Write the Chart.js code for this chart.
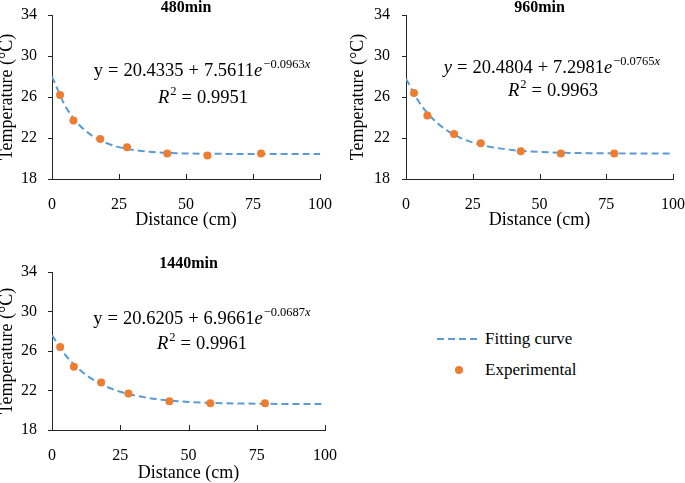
<!DOCTYPE html>
<html>
<head>
<meta charset="utf-8">
<script src="https://cdn.jsdelivr.net/npm/chart.js@4.4.1/dist/chart.umd.min.js"></script>
<style>
  html, body { margin: 0; padding: 0; background: #fff; }
  #wrap { position: relative; width: 685px; height: 483px; overflow: hidden; font-family: "Liberation Serif", serif; color: #000; }
  .box { position: absolute; }
  .leg { position: absolute; font-size: 17px; line-height: 20px; white-space: nowrap; }
</style>
</head>
<body>
<div id="wrap">
  <div class="box" style="left:0;top:0;width:340px;height:240px"><canvas id="c480"></canvas></div>
  <div class="box" style="left:345px;top:0;width:340px;height:240px"><canvas id="c960"></canvas></div>
  <div class="box" style="left:0;top:240px;width:340px;height:243px"><canvas id="c1440"></canvas></div>

  <svg class="box" style="left:430px;top:330px" width="60" height="50">
    <line x1="7" y1="9" x2="47" y2="9" stroke="#5B9BD5" stroke-width="2" stroke-dasharray="7 4"/>
    <circle cx="29" cy="40" r="4" fill="#ED7D31"/>
  </svg>
  <div class="leg" style="left:485px;top:329px">Fitting curve</div>
  <div class="leg" style="left:485px;top:360px">Experimental</div>
</div>

<script>
// measured points
const distance = [3, 8, 18, 28, 43, 58, 78];
const temp480 = [26.2, 23.7, 21.9, 21.1, 20.5, 20.3, 20.5];
const temp960 = [26.4, 24.2, 22.4, 21.5, 20.7, 20.5, 20.5];
const temp1440 = [26.4, 24.4, 22.8, 21.7, 20.9, 20.7, 20.7];

// fitted curves, read at these distances
const fitX = [0, 5, 10, 15, 20, 25, 30, 40, 50, 60, 70, 80, 90, 100];
const fit480 = [27.99, 25.10, 23.32, 22.22, 21.54, 21.11, 20.85, 20.59, 20.49, 20.46, 20.44, 20.44, 20.43, 20.43];
const fit960 = [27.78, 25.46, 23.88, 22.80, 22.06, 21.56, 21.22, 20.82, 20.64, 20.55, 20.52, 20.50, 20.49, 20.48];
const fit1440 = [27.59, 25.56, 24.13, 23.11, 22.38, 21.87, 21.51, 21.07, 20.84, 20.73, 20.68, 20.65, 20.63, 20.63];

const xTicks = [0, 25, 50, 75, 100];
const yTicks = [18, 22, 26, 30, 34];

const axisColor = "#262626";
const serif = "'Liberation Serif', 'Times New Roman', serif";

// small upward tick marks on the x axis
const innerTicks = {
  id: "innerTicks",
  afterDatasetsDraw(chart) {
    const { ctx, scales: { x }, chartArea } = chart;
    ctx.save();
    ctx.strokeStyle = axisColor;
    ctx.lineWidth = 1;
    x.ticks.forEach(t => {
      const px = Math.round(x.getPixelForValue(t.value)) + 0.5;
      ctx.beginPath();
      ctx.moveTo(px, chartArea.bottom + 1);
      ctx.lineTo(px, chartArea.bottom - 5);
      ctx.stroke();
    });
    ctx.restore();
  }
};

// equation text drawn as runs (normal / italic / superscript)
const equation = {
  id: "equation",
  afterDraw(chart, args, opts) {
    if (!opts.lines) return;
    const ctx = chart.ctx;
    ctx.save();
    ctx.fillStyle = "#000";
    ctx.textBaseline = "alphabetic";
    opts.lines.forEach(line => {
      const runs = line.runs.map(r => {
        const size = r.sup ? 12.5 : 18.5;
        const font = (r.it ? "italic " : "") + size + "px " + serif;
        ctx.font = font;
        return { ...r, font, w: ctx.measureText(r.t).width };
      });
      const total = runs.reduce((s, r) => s + r.w + (r.gap || 0), 0);
      let x = line.x - total / 2;
      runs.forEach(r => {
        x += r.gap || 0;
        ctx.font = r.font;
        ctx.fillText(r.t, x, line.y + (r.sup ? -8 : 0));
        x += r.w;
      });
    });
    ctx.restore();
  }
};

function eqRuns(yItalic, a, b, c, r2) {
  return [
    [
      { t: "y", it: yItalic },
      { t: "=", gap: 5 },
      { t: a, gap: 5 },
      { t: "+", gap: 5 },
      { t: b, gap: 5 },
      { t: "e", it: true },
      { t: "\u2212" + c, sup: true, gap: 1 },
      { t: "x", it: true, sup: true }
    ],
    [
      { t: "R", it: true },
      { t: "2", sup: true, gap: 1 },
      { t: "=", gap: 5 },
      { t: r2, gap: 5 }
    ]
  ];
}

function makeChart(id, title, temps, fits, g) {
  const eq = eqRuns(g.yItalic, g.a, g.b, g.c, g.r2);
  return new Chart(document.getElementById(id), {
    data: {
      datasets: [
        {
          type: "scatter",
          label: "Experimental",
          data: distance.map((d, i) => ({ x: d, y: temps[i] })),
          backgroundColor: "#ED7D31",
          borderWidth: 0,
          pointRadius: 4,
          pointHoverRadius: 4
        },
        {
          type: "line",
          label: "Fitting curve",
          data: fitX.map((d, i) => ({ x: d, y: fits[i] })),
          borderColor: "#5B9BD5",
          borderWidth: 2,
          borderDash: [7, 4],
          pointRadius: 0,
          fill: false,
          cubicInterpolationMode: "monotone"
        }
      ]
    },
    options: {
      responsive: true,
      maintainAspectRatio: false,
      animation: false,
      layout: { padding: g.pad },
      plugins: {
        legend: { display: false },
        tooltip: { enabled: false },
        title: {
          display: true,
          text: title,
          fullSize: false,
          color: "#000",
          font: { family: serif, size: 16, weight: "bold", lineHeight: 0.9375 },
          padding: g.titlePad
        },
        equation: {
          lines: [
            { runs: eq[0], x: g.eq[0], y: g.eq[1] },
            { runs: eq[1], x: g.eq[2], y: g.eq[3] }
          ]
        }
      },
      scales: {
        x: {
          type: "linear",
          min: 0,
          max: 100,
          afterBuildTicks: s => { s.ticks = xTicks.map(v => ({ value: v })); },
          afterFit: s => {
            s.height = g.xH;
            s.paddingLeft = 6;
            s.paddingRight = 12;
          },
          grid: { display: false, drawTicks: false },
          border: { display: true, color: axisColor, width: 1 },
          ticks: { color: "#000", padding: g.xTickPad, maxRotation: 0, font: { family: serif, size: 16 } },
          title: {
            display: true,
            text: "Distance (cm)",
            color: "#000",
            font: { family: serif, size: 18, lineHeight: 1.2 },
            padding: { top: 0, bottom: g.xTitlePad }
          }
        },
        y: {
          type: "linear",
          min: 18,
          max: 34,
          afterBuildTicks: s => { s.ticks = yTicks.map(v => ({ value: v })); },
          afterFit: s => {
            s.width = g.yW;
            s.paddingTop = 8;
            s.paddingBottom = 8;
          },
          grid: { display: true, drawOnChartArea: false, drawTicks: true, tickLength: 4, color: axisColor },
          border: { display: true, color: axisColor, width: 1 },
          ticks: { color: "#000", padding: g.yTickPad, font: { family: serif, size: 16 } },
          title: {
            display: true,
            text: "Temperature (\u00B0C)",
            color: "#000",
            font: { family: serif, size: 18, lineHeight: 1 },
            padding: { top: g.yTitlePad, bottom: 0 }
          }
        }
      }
    },
    plugins: [innerTicks, equation]
  });
}

makeChart("c480", "480min", temp480, fit480, {
  pad: { top: 0, left: 0, right: 20, bottom: 9 },
  titlePad: { top: 0, bottom: 0 },
  xH: 52, xTickPad: 16, xTitlePad: 0,
  yW: 52, yTickPad: 11, yTitlePad: -1.5,
  yItalic: false, a: "20.4335", b: "7.5611", c: "0.0963", r2: "0.9951",
  eq: [202, 76, 203, 103]
});

makeChart("c960", "960min", temp960, fit960, {
  pad: { top: 0, left: 0, right: 12, bottom: 9 },
  titlePad: { top: 0, bottom: 0 },
  xH: 52, xTickPad: 16, xTitlePad: 0,
  yW: 61, yTickPad: 12, yTitlePad: 4,
  yItalic: true, a: "20.4804", b: "7.2981", c: "0.0765", r2: "0.9963",
  eq: [207, 73, 208, 96]
});

makeChart("c1440", "1440min", temp1440, fit1440, {
  pad: { top: 0, left: 0, right: 15, bottom: 0 },
  titlePad: { top: 16, bottom: 1 },
  xH: 53, xTickPad: 16, xTitlePad: -1,
  yW: 52, yTickPad: 11, yTitlePad: -1.5,
  yItalic: false, a: "20.6205", b: "6.9661", c: "0.0687", r2: "0.9961",
  eq: [202, 84, 202, 109]
});
</script>
</body>
</html>
